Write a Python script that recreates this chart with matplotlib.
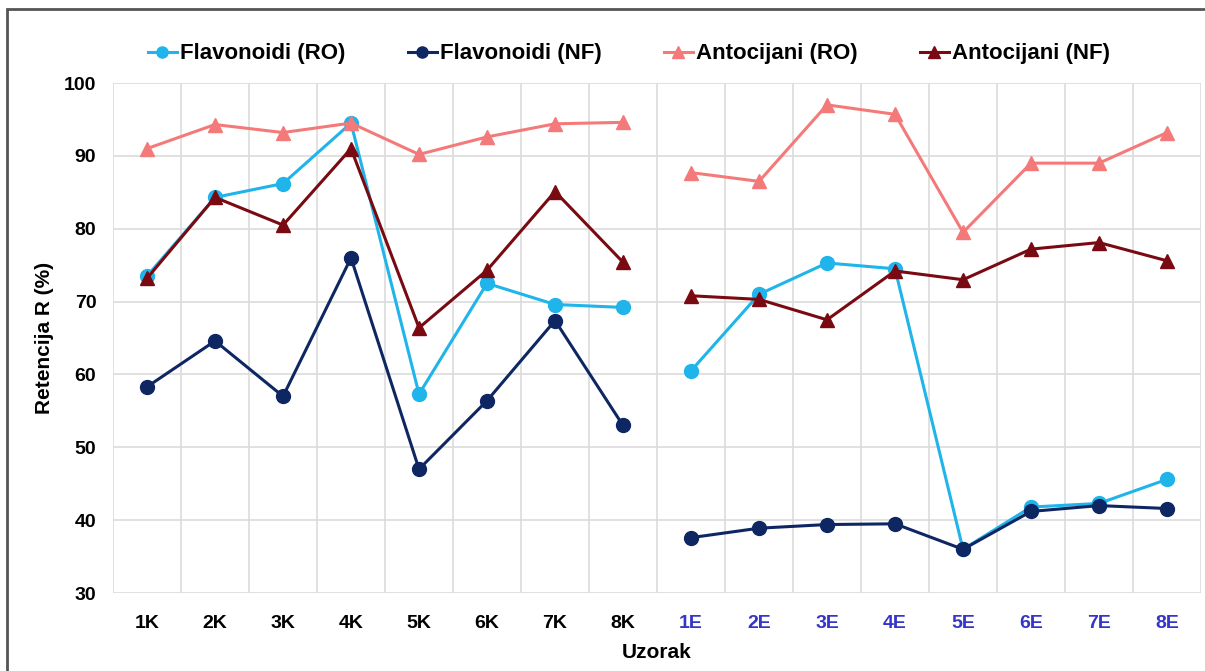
import matplotlib.pyplot as plt
import numpy as np
from matplotlib.patches import Rectangle

plt.rcParams['font.family'] = ['Liberation Sans', 'DejaVu Sans']
plt.rcParams['font.weight'] = 'bold'

uzorci_k = ['1K', '2K', '3K', '4K', '5K', '6K', '7K', '8K']
uzorci_e = ['1E', '2E', '3E', '4E', '5E', '6E', '7E', '8E']

# K grupa
flav_ro_k = [73.5, 84.3, 86.2, 94.5, 57.3, 72.5, 69.6, 69.2]
flav_nf_k = [58.3, 64.6, 57.0, 76.0, 47.0, 56.4, 67.4, 53.0]
anto_ro_k = [91.0, 94.3, 93.2, 94.5, 90.2, 92.6, 94.4, 94.6]
anto_nf_k = [73.2, 84.3, 80.5, 91.0, 66.4, 74.3, 85.1, 75.4]

# E grupa
flav_ro_e = [60.5, 71.0, 75.3, 74.5, 36.0, 41.8, 42.3, 45.6]
flav_nf_e = [37.6, 38.9, 39.4, 39.5, 36.0, 41.2, 42.0, 41.6]
anto_ro_e = [87.7, 86.5, 97.0, 95.7, 79.5, 89.0, 89.0, 93.2]
anto_nf_e = [70.8, 70.3, 67.5, 74.2, 73.0, 77.2, 78.1, 75.6]

serije = [
    ('Flavonoidi (RO)', flav_ro_k, flav_ro_e, '#1fb4ea', 'o'),
    ('Flavonoidi (NF)', flav_nf_k, flav_nf_e, '#0e2762', 'o'),
    ('Antocijani (RO)', anto_ro_k, anto_ro_e, '#f47a7a', '^'),
    ('Antocijani (NF)', anto_nf_k, anto_nf_e, '#7a0a12', '^'),
]

fig = plt.figure(figsize=(12.05, 6.71), dpi=100)
ax = fig.add_axes([0.0938, 0.1162, 0.9029, 0.7601])

xk = np.arange(len(uzorci_k))
xe = np.arange(len(uzorci_e)) + len(uzorci_k)

for ime, vk, ve, boja, mk in serije:
    ax.plot(xk, vk, color=boja, marker=mk, markersize=10, linewidth=2.2, label=ime)
    ax.plot(xe, ve, color=boja, marker=mk, markersize=10, linewidth=2.2)

ax.set_xlim(-0.5, len(uzorci_k) + len(uzorci_e) - 0.5)
ax.set_ylim(30, 100)
ax.set_yticks(range(30, 101, 10))
ax.set_xticks(np.concatenate([xk, xe]))
ax.set_xticklabels(uzorci_k + uzorci_e)
for i, t in enumerate(ax.get_xticklabels()):
    if i >= len(uzorci_k):
        t.set_color('#3535c8')
ax.set_xticks(np.arange(-0.5, 16, 1), minor=True)
ax.grid(True, which='minor', axis='x', color='#dcdcdc', linewidth=1.2)
ax.grid(True, which='major', axis='y', color='#dcdcdc', linewidth=1.2)
ax.set_axisbelow(True)
ax.tick_params(which='both', length=0, labelsize=14)
ax.tick_params(axis='x', pad=16)
ax.tick_params(axis='y', pad=12)
for s in ax.spines.values():
    s.set_visible(False)

ax.set_ylabel('Retencija R (%)', fontsize=15, fontweight='bold', labelpad=7)
ax.set_xlabel('Uzorak', fontsize=15, fontweight='bold', labelpad=8)

fig.legend(loc='upper center', bbox_to_anchor=(0.522, 0.965), ncol=4, frameon=False,
           fontsize=16, handlelength=1.3, handletextpad=0.15, columnspacing=2.8,
           markerscale=0.8)

fig.patches.append(Rectangle((0.006, -0.01), 1.0, 0.996, transform=fig.transFigure,
                             fill=False, edgecolor='#555555', linewidth=2))

fig.savefig('out.png', dpi=100)
